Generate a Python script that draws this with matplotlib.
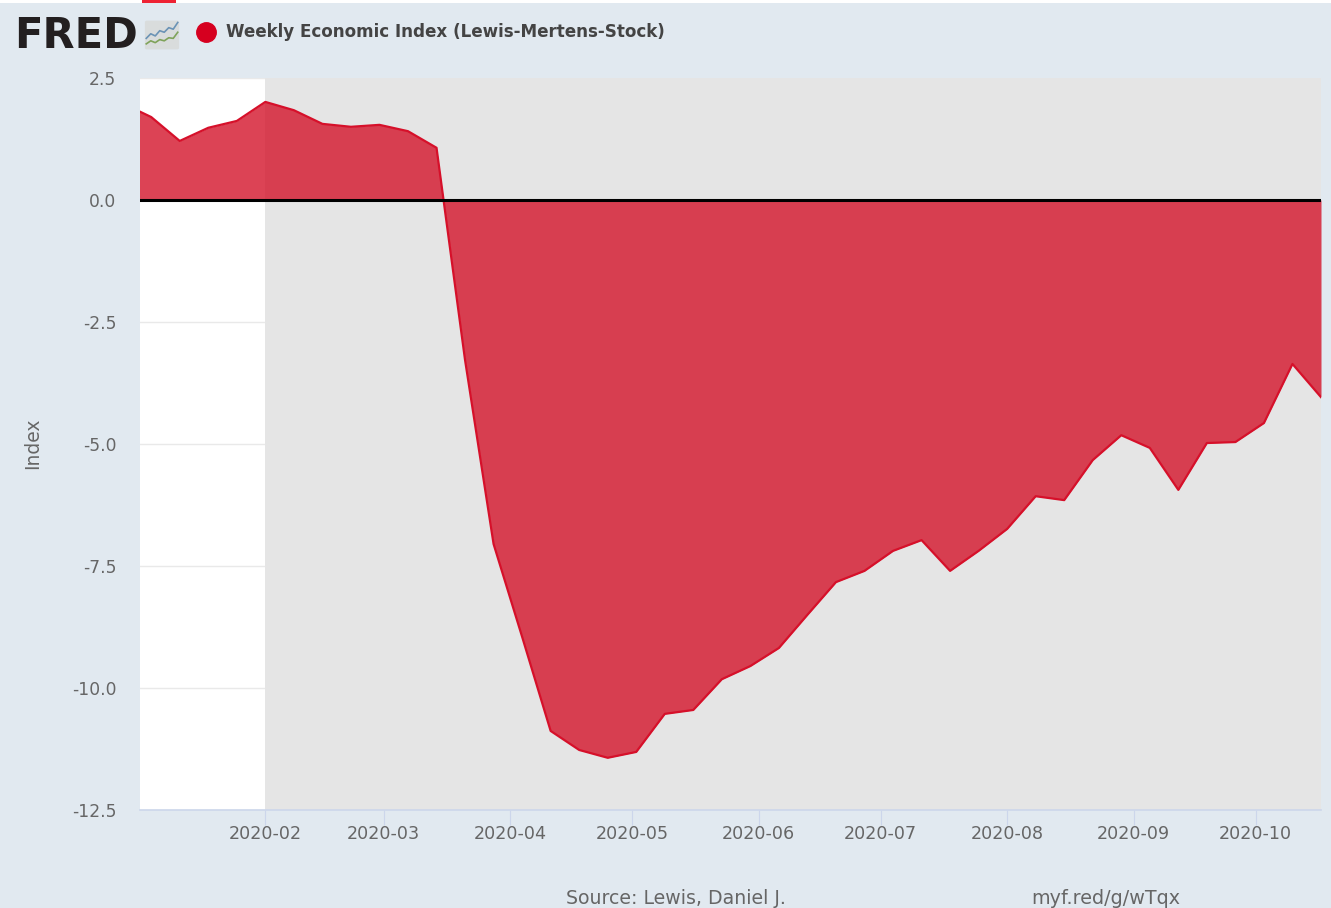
# -*- coding: utf-8 -*-
"""FRED style area chart of the Weekly Economic Index."""

import matplotlib

matplotlib.use("Agg")

import matplotlib.dates as mdates
import matplotlib.pyplot as plt
import numpy as np
from matplotlib.lines import Line2D
from matplotlib.patches import FancyBboxPatch, Rectangle

WIDTH, HEIGHT = 1331, 908

DATES = np.array(
    [
        "2020-01-01", "2020-01-04", "2020-01-11", "2020-01-18", "2020-01-25",
        "2020-02-01", "2020-02-08", "2020-02-15", "2020-02-22", "2020-02-29",
        "2020-03-07", "2020-03-14", "2020-03-21", "2020-03-28", "2020-04-04",
        "2020-04-11", "2020-04-18", "2020-04-25", "2020-05-02", "2020-05-09",
        "2020-05-16", "2020-05-23", "2020-05-30", "2020-06-06", "2020-06-13",
        "2020-06-20", "2020-06-27", "2020-07-04", "2020-07-11", "2020-07-18",
        "2020-07-25", "2020-08-01", "2020-08-08", "2020-08-15", "2020-08-22",
        "2020-08-29", "2020-09-05", "2020-09-12", "2020-09-19", "2020-09-26",
        "2020-10-03", "2020-10-10", "2020-10-17",
    ],
    dtype="datetime64[D]",
)
WEI = [
    1.82, 1.70, 1.21, 1.48, 1.62,
    2.01, 1.84, 1.56, 1.50, 1.54,
    1.41, 1.07, -3.28, -7.05, -8.95,
    -10.88, -11.27, -11.43, -11.31, -10.53,
    -10.45, -9.82, -9.55, -9.18, -8.50,
    -7.83, -7.60, -7.19, -6.97, -7.60,
    -7.19, -6.74, -6.07, -6.15, -5.33,
    -4.82, -5.08, -5.94, -4.98, -4.96,
    -4.57, -3.36, -4.04,
]
Y_TICKS = [2.5, 0.0, -2.5, -5.0, -7.5, -10.0, -12.5]
X_TICKS = np.array(
    [
        "2020-02-01", "2020-03-01", "2020-04-01", "2020-05-01", "2020-06-01",
        "2020-07-01", "2020-08-01", "2020-09-01", "2020-10-01",
    ],
    dtype="datetime64[D]",
)
RECESSION_START = np.datetime64("2020-02-01")
ICON_BLUE = [3, 4.5, 3.8, 5.5, 5, 6.5, 6, 8.2]
ICON_GREEN = [1.2, 2.2, 1.6, 2.6, 2.2, 3.2, 3, 5]

BG = "#e1e9f0"
RED = "#d4142b"
LINE_RED = "#d6102a"
TEXT = "#666666"


def px_x(x):
    return x / WIDTH


def px_y(y):
    return 1 - y / HEIGHT


def draw_header(fig):
    fig.add_artist(Rectangle((0, px_y(3)), 1, 3 / HEIGHT, transform=fig.transFigure,
                             color="white", lw=0))
    fig.add_artist(Rectangle((px_x(142), px_y(3)), 34 / WIDTH, 3 / HEIGHT,
                             transform=fig.transFigure, color="#ee2233", lw=0))
    fig.text(px_x(14), px_y(36.5), "FRED", fontsize=30, fontweight="bold", color="#231f20",
             ha="left", va="center")

    icon = fig.add_axes([px_x(144), px_y(50), 36 / WIDTH, 30 / HEIGHT])
    icon.set_axis_off()
    icon.set_xlim(-0.5, 7.5)
    icon.set_ylim(-0.8, 9)
    icon.add_patch(FancyBboxPatch((-0.3, -0.6), 7.6, 9.4, boxstyle="round,pad=0,rounding_size=0.5",
                                  fc="#d9dcdc", ec="none"))
    icon.plot(ICON_BLUE, color="#6b93b5", lw=1.2)
    icon.plot(ICON_GREEN, color="#7fa35a", lw=1.2)

    fig.add_artist(Line2D([px_x(206)], [px_y(32)], marker="o", markersize=14, color="#d6001f",
                          transform=fig.transFigure, lw=0))
    fig.text(px_x(226), px_y(32), "Weekly Economic Index (Lewis-Mertens-Stock)", fontsize=12.05,
             fontweight="bold", color="#444444", ha="left", va="center")


def main():
    fig = plt.figure(figsize=(WIDTH / 100, HEIGHT / 100), dpi=100, facecolor=BG)
    ax = fig.add_axes([px_x(140), px_y(810), (1321 - 140) / WIDTH, (810 - 78) / HEIGHT])
    ax.set_facecolor("white")

    ax.axvspan(RECESSION_START, DATES[-1], color="#e5e5e5", lw=0, zorder=1)
    ax.fill_between(DATES, WEI, 0, color=RED, alpha=0.8, lw=0, zorder=2)
    ax.plot(DATES, WEI, color=LINE_RED, lw=1.6, zorder=3)
    ax.axhline(0, color="black", lw=2.2, zorder=4)

    # left limit a quarter day in, that is where the month ticks land in the original
    ax.set_xlim(DATES[0] + np.timedelta64(6, "h"), DATES[-1])
    ax.set_ylim(Y_TICKS[-1], Y_TICKS[0])
    ax.set_yticks(Y_TICKS)
    ax.set_yticklabels([f"{v:.1f}" for v in Y_TICKS])
    ax.set_xticks(X_TICKS)
    ax.xaxis.set_major_formatter(mdates.DateFormatter("%Y-%m"))
    ax.grid(axis="y", color="#e9e9e9", lw=1, zorder=0)
    ax.set_axisbelow(True)

    for side in ["top", "right", "left"]:
        ax.spines[side].set_visible(False)
    ax.spines["bottom"].set_color("#ccd6eb")
    ax.spines["bottom"].set_linewidth(1.2)
    ax.tick_params(axis="x", length=10.5, width=0.8, color="#ccd6eb", labelcolor=TEXT, labelsize=12.6, pad=0.5)
    ax.tick_params(axis="y", length=0, labelcolor=TEXT, labelsize=12.3, pad=17)

    fig.text(px_x(33), px_y(443), "Index", rotation=90, fontsize=13.5, color=TEXT, ha="center", va="center")
    fig.text(px_x(566), px_y(899), "Source: Lewis, Daniel J.", fontsize=13.6, color=TEXT, ha="left", va="center")
    fig.text(px_x(1031), px_y(899), "myf.red/g/wTqx", fontsize=13.8, color=TEXT, ha="left", va="center")

    draw_header(fig)
    fig.savefig("out.png", dpi=100, facecolor=BG)
    plt.close(fig)


if __name__ == "__main__":
    main()
